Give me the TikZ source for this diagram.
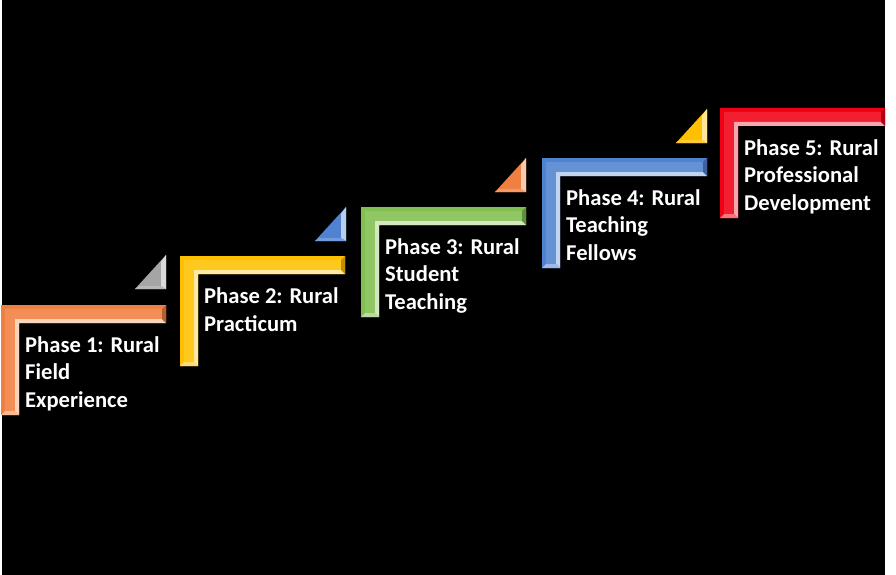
\documentclass[tikz,border=0pt]{standalone}
\usepackage{fontspec}
\setmainfont{Carlito}
\definecolor{cOrange}{RGB}{240,128,64}
\definecolor{cYellow}{RGB}{255,192,0}
\definecolor{cGreen}{RGB}{130,190,80}
\definecolor{cBlue}{RGB}{80,130,210}
\definecolor{cRed}{RGB}{240,0,20}
\definecolor{cGray}{RGB}{165,165,165}
\tikzset{
  phasetext/.style={text=white, font=\bfseries\fontsize{22.6}{27.5}\selectfont, align=left, anchor=base west, inner sep=0pt},
}
% #1 left x, #2 top y, #3 colour, #4 node name, #5 number of lines, #6 text
\newcommand\phasestep[6]{%
  \def\W{165}\def\H{110}\def\T{18}\def\b{4}%
  \fill[#3] (#1,#2) -- ++(\W,0) -- ++(0,\T) -- ++(-\W+\T,0) -- ++(0,\H-\T) -- ++(-\T,0) -- cycle;
  % face
  \fill[#3!88!white] (#1+\b,#2+\b) -- (#1+\W-\b,#2+\b) -- (#1+\W-\b,#2+\T-\b) -- (#1+\T-\b,#2+\T-\b) -- (#1+\T-\b,#2+\H-\b) -- (#1+\b,#2+\H-\b) -- cycle;
  % inner light facets
  \fill[#3!35!white] (#1+\T-\b,#2+\T-\b) -- (#1+\W-\b,#2+\T-\b) -- (#1+\W,#2+\T) -- (#1+\T,#2+\T) -- (#1+\T,#2+\H) -- (#1+\T-\b,#2+\H-\b) -- cycle;
  % right end facet
  \fill[#3!75!black] (#1+\W-\b,#2+\b) -- (#1+\W,#2) -- (#1+\W,#2+\T) -- (#1+\W-\b,#2+\T-\b) -- cycle;
  % bottom end facet
  \fill[#3!55!white] (#1+\b,#2+\H-\b) -- (#1+\T-\b,#2+\H-\b) -- (#1+\T,#2+\H) -- (#1,#2+\H) -- cycle;
  \node[phasetext] (#4) at (#1+24,#2+48+27*#5-27) {#6};
}
% #1 right x, #2 bottom y, #3 colour
\newcommand\steptri[3]{%
  \fill[#3] (#1,#2) -- (#1,#2-34) -- (#1-31,#2) -- cycle;
  \fill[#3!40!white] (#1,#2) -- (#1,#2-34) -- (#1-5,#2-27) -- (#1-5,#2-3) -- cycle;
  \fill[#3!80!white] (#1,#2) -- (#1-5,#2-3) -- (#1-27,#2-3) -- (#1-31,#2) -- cycle;
}
\begin{document}
\begin{tikzpicture}[x=1pt,y=-1pt]
\useasboundingbox (0,0) rectangle (896,575);
\fill[white] (0,0) rectangle (896,575);
\fill[black] (2,0) rectangle (885,575);

\phasestep{1}{305}{cOrange}{p1}{3}{Phase 1: Rural\\Field\\Experience}
\phasestep{180}{256}{cYellow}{p2}{2}{Phase 2: Rural\\Practicum}
\phasestep{361}{207}{cGreen}{p3}{3}{Phase 3: Rural\\Student\\Teaching}
\phasestep{542}{158}{cBlue}{p4}{3}{Phase 4: Rural\\Teaching\\Fellows}
\phasestep{720}{108}{cRed}{p5}{3}{Phase 5: Rural\\Professional\\Development}

\steptri{166}{289}{cGray}
\steptri{346}{241}{cBlue}
\steptri{526}{192}{cOrange}
\steptri{707}{143}{cYellow}
\end{tikzpicture}
\end{document}
